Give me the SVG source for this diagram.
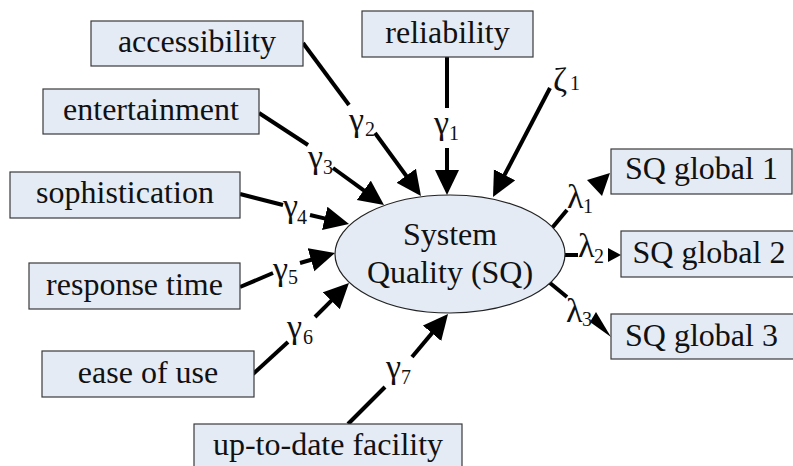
<svg xmlns="http://www.w3.org/2000/svg" width="793" height="466" viewBox="0 0 793 466">
<defs>
<style>
.box{fill:#e4ebf5;stroke:#3a3a3a;stroke-width:1.2}
.lbl{font-size:32px;text-anchor:middle}
.gk{font-size:34px}
.sub{font-size:20px}
.ln{stroke:#000;stroke-width:4;fill:none}
.ah{fill:#000}
</style>
<marker id="arr" markerUnits="userSpaceOnUse" markerWidth="27" markerHeight="26" refX="3" refY="12" orient="auto">
<path d="M0,0 L25,12 L0,24 z" fill="#000"/>
</marker>
</defs>
<rect width="793" height="466" fill="#fff"/>
<g font-family="Liberation Serif, Tinos, Times New Roman, Noto Serif, DejaVu Serif, serif" fill="#111">
<g id="connectors">
<line class="ln" x1="447" y1="57" x2="447" y2="108"/>
<line class="ln" x1="447" y1="148" x2="447" y2="173" marker-end="url(#arr)"/>
<line class="ln" x1="303" y1="43" x2="349" y2="105"/>
<line class="ln" x1="375" y1="133" x2="408" y2="178.2" marker-end="url(#arr)"/>
<line class="ln" x1="259" y1="113" x2="308" y2="145"/>
<line class="ln" x1="333" y1="168" x2="366.2" y2="192.1" marker-end="url(#arr)"/>
<line class="ln" x1="240" y1="194" x2="283" y2="205"/>
<line class="ln" x1="310" y1="215" x2="327.6" y2="219.1" marker-end="url(#arr)"/>
<line class="ln" x1="240" y1="287" x2="273" y2="273"/>
<line class="ln" x1="300" y1="263" x2="313.9" y2="259" marker-end="url(#arr)"/>
<line class="ln" x1="253" y1="374" x2="288" y2="342"/>
<line class="ln" x1="315" y1="317" x2="333.4" y2="298.6" marker-end="url(#arr)"/>
<line class="ln" x1="348" y1="424" x2="385" y2="387"/>
<line class="ln" x1="412" y1="357" x2="433.9" y2="330.9" marker-end="url(#arr)"/>
<line class="ln" x1="550" y1="88" x2="503.2" y2="177.5" marker-end="url(#arr)"/>
<line class="ln" x1="552" y1="228" x2="567" y2="210"/>
<polygon class="ah" points="587,180 610,173 602,196"/>
<line class="ln" x1="565" y1="255" x2="578" y2="255"/>
<polygon class="ah" points="608,248 621,255 608,262"/>
<line class="ln" x1="550" y1="283" x2="567" y2="297"/>
<polygon class="ah" points="596,312 611,337 590,322"/>

<g id="labels">
<text class="gk" x="434" y="134">γ</text><text class="sub" x="449" y="140">1</text>
<text class="gk" x="349" y="131">γ</text><text class="sub" x="365" y="136">2</text>
<text class="gk" x="308" y="168">γ</text><text class="sub" x="323" y="174">3</text>
<text class="gk" x="283" y="217">γ</text><text class="sub" x="297" y="224">4</text>
<text class="gk" x="273" y="280">γ</text><text class="sub" x="288" y="284">5</text>
<text class="gk" x="287" y="338">γ</text><text class="sub" x="303" y="344">6</text>
<text class="gk" x="386" y="378">γ</text><text class="sub" x="401" y="384">7</text>
<text class="gk" x="553" y="91">ζ</text><text class="sub" x="570" y="90">1</text>
<text class="gk" x="567" y="208">λ</text><text class="sub" x="583" y="213">1</text>
<text class="gk" x="578" y="257">λ</text><text class="sub" x="594" y="263">2</text>
<text class="gk" x="566" y="322">λ</text><text class="sub" x="582" y="326">3</text>
</g>
</g>

<g id="sq">
<ellipse cx="450" cy="254" rx="115" ry="59" fill="#e4ebf5" stroke="#222" stroke-width="1.2"/>
<text class="lbl" x="450" y="245">System</text>
<text class="lbl" x="450" y="283">Quality (SQ)</text>
</g>

<g id="reliability"><rect class="box" x="362" y="11" width="171" height="46"/><text class="lbl" x="447.5" y="43">reliability</text></g>
<g id="accessibility"><rect class="box" x="91" y="21" width="212" height="45"/><text class="lbl" x="197" y="52">accessibility</text></g>
<g id="entertainment"><rect class="box" x="43" y="89" width="216" height="45"/><text class="lbl" x="151" y="120">entertainment</text></g>
<g id="sophistication"><rect class="box" x="10" y="172" width="230" height="46"/><text class="lbl" x="125" y="203">sophistication</text></g>
<g id="response-time"><rect class="box" x="29" y="263" width="211" height="46"/><text class="lbl" x="134.5" y="295">response time</text></g>
<g id="ease-of-use"><rect class="box" x="42" y="351" width="212" height="46"/><text class="lbl" x="148" y="383">ease of use</text></g>
<g id="up-to-date-facility"><rect class="box" x="194" y="424" width="268" height="50"/><text class="lbl" x="328" y="455">up-to-date facility</text></g>
<g id="sq-global-1"><rect class="box" x="611" y="149" width="181" height="45"/><text class="lbl" x="701.5" y="179">SQ global 1</text></g>
<g id="sq-global-2"><rect class="box" x="621" y="231" width="175" height="46"/><text class="lbl" x="709" y="263">SQ global 2</text></g>
<g id="sq-global-3"><rect class="box" x="611" y="314" width="185" height="45"/><text class="lbl" x="701.5" y="346">SQ global 3</text></g>
</g>
</svg>
